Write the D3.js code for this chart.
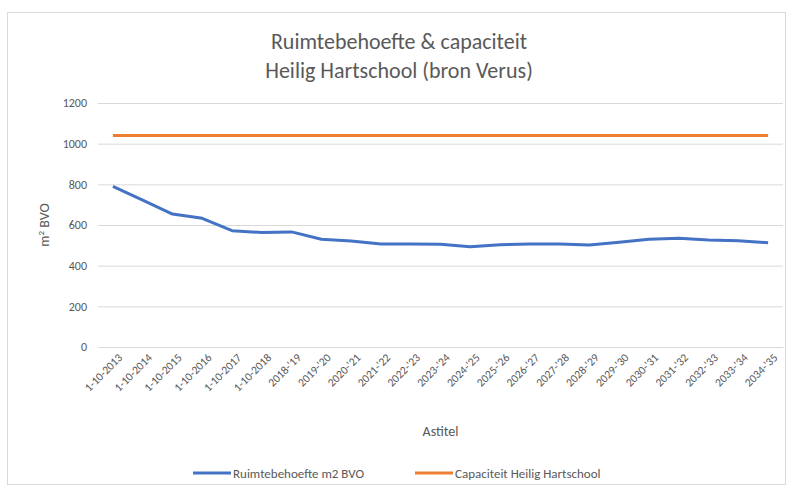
<!DOCTYPE html>
<html>
<head>
<meta charset="utf-8">
<script src="https://cdn.jsdelivr.net/npm/d3@7"></script>
<style>
  body { margin: 0; background: #fff; }
  text { font-family: Carlito, "Open Sans", "Liberation Sans", sans-serif; }
</style>
</head>
<body>
<div id="chart"></div>
<script>
// Data
const categories = [
  '1-10-2013', '1-10-2014', '1-10-2015', '1-10-2016', '1-10-2017', '1-10-2018',
  "2018-'19", "2019-'20", "2020-'21", "2021-'22", "2022-'23", "2023-'24",
  "2024-'25", "2025-'26", "2026-'27", "2027-'28", "2028-'29", "2029-'30",
  "2030-'31", "2031-'32", "2032-'33", "2033-'34", "2034-'35"
];
const ruimtebehoefte = [
  790, 722, 654, 633, 572, 563, 566, 530, 521, 506, 506, 505,
  493, 503, 506, 506, 502, 515, 530, 535, 526, 523, 513
];
const capaciteit = categories.map(() => 1040);
const yTicks = [0, 200, 400, 600, 800, 1000, 1200];

const width = 788, height = 491;
const margin = { top: 103, right: 5, bottom: 144, left: 98 };
const innerW = width - margin.left - margin.right;
const innerH = height - margin.top - margin.bottom;
const textColor = '#595959';

const svg = d3.select('#chart').append('svg')
    .attr('width', width)
    .attr('height', height);

// chart area border
svg.append('rect')
    .attr('x', 7.5).attr('y', 12.5)
    .attr('width', 778).attr('height', 472)
    .attr('fill', 'none')
    .attr('stroke', '#d9d9d9');

// Title
const title = svg.append('text')
    .attr('text-anchor', 'middle')
    .style('font-size', '22px')
    .style('fill', textColor);
title.append('tspan').attr('x', 399).attr('y', 49).text('Ruimtebehoefte & capaciteit');
title.append('tspan').attr('x', 399).attr('y', 78).text('Heilig Hartschool (bron Verus)');

const g = svg.append('g')
    .attr('transform', `translate(${margin.left},${margin.top})`);

// Scales
const x = d3.scalePoint()
    .domain(categories)
    .range([0, innerW])
    .padding(0.5);

const y = d3.scaleLinear()
    .domain([0, 1200])
    .range([innerH, 0]);

// Gridlines
g.append('g')
    .selectAll('line')
    .data(yTicks.filter(d => d > 0))
    .join('line')
    .attr('x1', 0).attr('x2', innerW)
    .attr('y1', d => y(d) + 0.5).attr('y2', d => y(d) + 0.5)
    .attr('stroke', '#d9d9d9');

// Y axis
const yAxis = g.append('g')
    .call(d3.axisLeft(y).tickValues(yTicks).tickFormat(d3.format('d')).tickSize(0).tickPadding(11));
yAxis.select('.domain').remove();
yAxis.selectAll('text')
    .style('font-size', '12px')
    .style('fill', textColor);

// X axis
const xAxis = g.append('g')
    .attr('transform', `translate(0,${innerH})`)
    .call(d3.axisBottom(x).tickSize(0).tickPadding(8));
xAxis.select('.domain').attr('stroke', '#d9d9d9');
xAxis.selectAll('text')
    .style('font-size', '11.5px')
    .style('fill', textColor)
    .attr('text-anchor', 'end')
    .attr('dx', '-0.1em')
    .attr('dy', '0.6em')
    .attr('transform', 'rotate(-45)');

// Axis titles
svg.append('text')
    .attr('x', margin.left + innerW / 2)
    .attr('y', 436)
    .attr('text-anchor', 'middle')
    .style('font-size', '14px')
    .style('fill', textColor)
    .text('Astitel');

svg.append('text')
    .attr('transform', `translate(49,${margin.top + innerH / 2}) rotate(-90)`)
    .attr('text-anchor', 'middle')
    .style('font-size', '14px')
    .style('fill', textColor)
    .html('m<tspan dy="-5" font-size="9px">2</tspan><tspan dy="5"> BVO</tspan>');

// Lines
const line = d3.line()
    .x((d, i) => x(categories[i]))
    .y(d => y(d));

g.append('path')
    .datum(capaciteit)
    .attr('fill', 'none')
    .attr('stroke', '#ED7D31')
    .attr('stroke-width', 3)
    .attr('stroke-linejoin', 'round')
    .attr('d', line);

g.append('path')
    .datum(ruimtebehoefte)
    .attr('fill', 'none')
    .attr('stroke', '#4472C4')
    .attr('stroke-width', 3)
    .attr('stroke-linejoin', 'round')
    .attr('d', line);

// Legend
const legendItems = [
  { label: 'Ruimtebehoefte m2 BVO', color: '#4472C4', x: 193 },
  { label: 'Capaciteit Heilig Hartschool', color: '#ED7D31', x: 415 }
];
const legend = svg.append('g').attr('transform', 'translate(0,473)');
legendItems.forEach(item => {
  legend.append('line')
      .attr('x1', item.x).attr('x2', item.x + 38)
      .attr('y1', 0).attr('y2', 0)
      .attr('stroke', item.color)
      .attr('stroke-width', 3);
  legend.append('text')
      .attr('x', item.x + 40)
      .attr('y', 4.5)
      .style('font-size', '13px')
      .style('fill', textColor)
      .text(item.label);
});
</script>
</body>
</html>
